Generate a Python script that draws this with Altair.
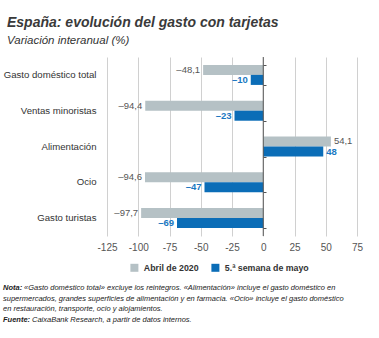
import altair as alt
import pandas as pd

categories = ["Gasto doméstico total", "Ventas minoristas", "Alimentación", "Ocio", "Gasto turistas"]
series_names = ["Abril de 2020", "5.ª semana de mayo"]
abril = [-48.1, -94.4, 54.1, -94.6, -97.7]
mayo = [-10, -23, 48, -47, -69]
x_ticks = [-125, -100, -75, -50, -25, 0, 25, 50, 75]

notes_bold = ["Nota:", "", "", "Fuente:"]
notes_rest = [
    "«Gasto doméstico total» excluye los reintegros. «Alimentación» incluye el gasto doméstico en",
    "supermercados, grandes superficies de alimentación y en farmacia. «Ocio» incluye el gasto doméstico",
    "en restauración, transporte, ocio y alojamientos.",
    "CaixaBank Research, a partir de datos internos.",
]

def fmt(v, dec):
    s = f"{abs(v):.{dec}f}".replace(".", ",")
    return ("\u2013" + s) if v < 0 else s

rows = []
for c, a, m in zip(categories, abril, mayo):
    rows.append({"cat": c, "serie": series_names[0], "val": a, "lab": fmt(a, 1)})
    rows.append({"cat": c, "serie": series_names[1], "val": m, "lab": fmt(m, 0)})
df = pd.DataFrame(rows)

FONT = "Liberation Sans"
GRAY = "#b5c1c5"
BLUE = "#0b6db7"
NOTE_SIZE = 7.5

W, H = 250, 179
xscale = alt.Scale(domain=[-125, 75], nice=False, zero=False)
yscale = alt.Scale(domain=categories, paddingInner=0.44, paddingOuter=0.22)
yoff_scale = alt.Scale(domain=series_names, paddingInner=0, paddingOuter=0)
color_scale = alt.Scale(domain=series_names, range=[GRAY, BLUE])

xaxis = alt.Axis(values=x_ticks, labelExpr="toString(datum.value)", grid=True,
                 gridColor="#d0d0d0", domain=False, ticks=False, labelFontSize=10,
                 labelColor="#555555", labelFont=FONT, labelPadding=6,
                 labelOverlap=False, labelFlush=False)

def X(field):
    return alt.X(field, scale=xscale, title=None, axis=xaxis)

base = alt.Chart(df)

bars = base.mark_bar(cornerRadius=0).encode(
    x=X("val:Q"),
    y=alt.Y("cat:N", scale=yscale, title=None, sort=categories,
            axis=alt.Axis(domain=False, ticks=False, labelFontSize=9.6, labelColor="#333333",
                          labelFont=FONT, labelPadding=11, labelLimit=120)),
    yOffset=alt.YOffset("serie:N", scale=yoff_scale, sort=series_names),
    color=alt.Color("serie:N", scale=color_scale, sort=series_names, title=None,
                    legend=alt.Legend(orient="none", legendX=23, legendY=206, direction="horizontal",
                                      columns=2, symbolType="square", symbolSize=64,
                                      symbolStrokeWidth=0, labelFontSize=8.8, labelFont=FONT,
                                      labelFontWeight="bold", labelColor="#333333",
                                      columnPadding=12, symbolOffset=0, labelOffset=5)),
)

def value_labels(serie, color, weight):
    d = base.transform_filter(alt.datum.serie == serie)
    common = dict(
        x=X("val:Q"),
        y=alt.Y("cat:N", scale=yscale, sort=categories),
        yOffset=alt.YOffset("serie:N", scale=yoff_scale, sort=series_names),
        text="lab:N",
    )
    neg = d.transform_filter("datum.val < 0").mark_text(
        align="right", baseline="middle", dx=-3, fontSize=9.5, font=FONT, color=color,
        fontWeight=weight).encode(**common)
    pos = d.transform_filter("datum.val >= 0").mark_text(
        align="left", baseline="middle", dx=3, fontSize=9.5, font=FONT, color=color,
        fontWeight=weight).encode(**common)
    return neg + pos

zero_df = pd.DataFrame({"z": [0]})
zero_line = alt.Chart(zero_df).mark_rule(color="#555555", strokeWidth=1).encode(
    x=X("z:Q")
)

# ticks along the zero line at category boundaries (right-oriented axis shifted to zero)
tick_axis = alt.Chart(df).mark_point(opacity=0).encode(
    y=alt.Y("cat:N", scale=yscale, sort=categories, title=None,
            axis=alt.Axis(orient="right", offset=-94, labels=False, domain=False,
                          ticks=True, tickBand="extent", tickSize=3, tickColor="#555555")),
)

notes_df = pd.DataFrame({"b": notes_bold, "r": notes_rest, "i": list(range(4))})
notes_df["yy"] = 233 + notes_df["i"] * 10.7
notes_df["xr"] = notes_df["b"].map(lambda s: -104 + (21 if s == "Nota:" else (29 if s == "Fuente:" else 0)))
note_bold = alt.Chart(notes_df).mark_text(
    align="left", baseline="alphabetic", fontSize=NOTE_SIZE, font=FONT, fontStyle="italic",
    fontWeight="bold", color="#222222").encode(
    x=alt.value(-104), y=alt.Y("yy:Q", scale=None), text="b:N")
note_rest = alt.Chart(notes_df).mark_text(
    align="left", baseline="alphabetic", fontSize=NOTE_SIZE, font=FONT, fontStyle="italic",
    color="#222222").encode(
    x=alt.X("xr:Q", scale=None), y=alt.Y("yy:Q", scale=None), text="r:N")

left_layers = alt.layer(bars, zero_line, value_labels(series_names[0], "#555555", "normal"),
                        value_labels(series_names[1], "#1a78c2", "bold"))
chart = alt.layer(left_layers, tick_axis, note_bold, note_rest).resolve_scale(
    y="shared").resolve_axis(y="independent").properties(
    width=W, height=H,
    title=alt.Title("España: evolución del gasto con tarjetas",
                    subtitle="Variación interanual (%)",
                    anchor="start", frame="group", dx=-100, offset=10,
                    font=FONT, fontSize=14, fontStyle="italic", fontWeight="bold", color="#3a3a3a",
                    subtitleFont=FONT, subtitleFontSize=11.5, subtitleFontStyle="italic",
                    subtitleColor="#333333", subtitlePadding=5),
    autosize=alt.AutoSizeParams(type="none"),
    padding={"left": 107, "top": 57, "right": 22, "bottom": 102},
).configure_view(stroke=None)

chart.save("out.html", embed_options={"renderer": "svg", "actions": False})
